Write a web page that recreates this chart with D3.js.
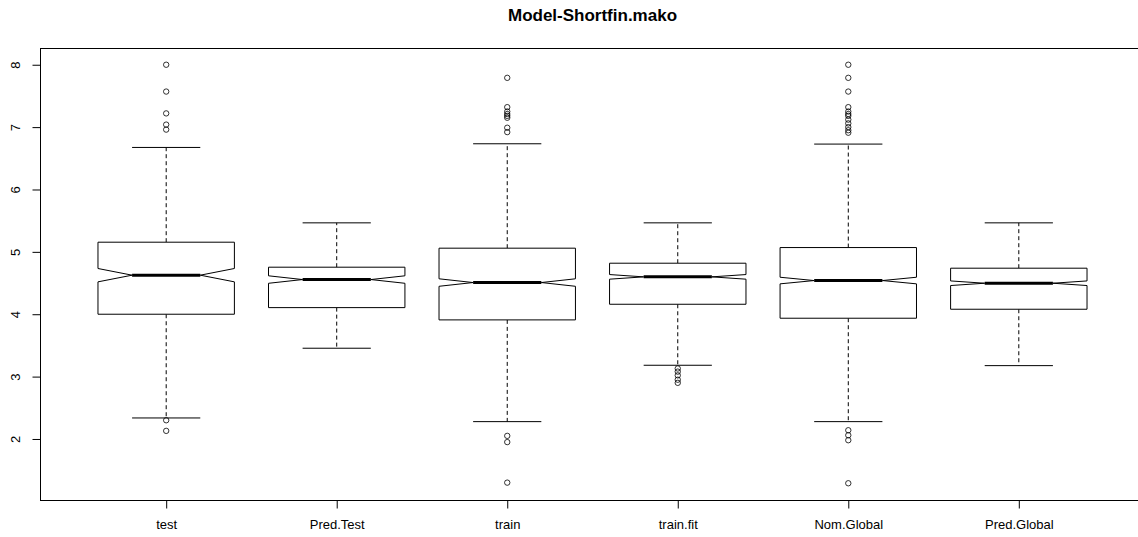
<!DOCTYPE html>
<html>
<head>
<meta charset="utf-8">
<script src="https://cdn.jsdelivr.net/npm/d3@7"></script>
<style>
  body { margin: 0; background: #fff; }
  text { font-family: "Liberation Sans", Arial, sans-serif; fill: #000; }
</style>
</head>
<body>
<svg id="chart" width="1138" height="537"></svg>
<script>
// data
var categories = ["test", "Pred.Test", "train", "train.fit", "Nom.Global", "Pred.Global"];
var q1 = [4.00, 4.106, 3.909, 4.16, 3.936, 4.08];
var medians = [4.626, 4.556, 4.508, 4.599, 4.54, 4.497];
var q3 = [5.155, 4.754, 5.059, 4.818, 5.069, 4.738];
var whiskLo = [2.337, 3.455, 2.278, 3.182, 2.278, 3.176];
var whiskHi = [6.674, 5.465, 6.733, 5.465, 6.728, 5.465];
var notchHalf = [0.107, 0.06, 0.06, 0.037, 0.053, 0.037];
var outliers = [
  [8.0, 7.57, 7.22, 7.04, 6.96, 2.30, 2.13],
  [],
  [7.79, 7.32, 7.25, 7.21, 7.18, 7.15, 6.99, 6.92, 2.05, 1.95, 1.30],
  [3.13, 3.08, 3.02, 2.95, 2.90],
  [8.0, 7.79, 7.57, 7.32, 7.25, 7.21, 7.18, 7.12, 7.06, 7.0, 6.95, 6.91, 2.14, 2.06, 1.98, 1.29],
  []
];
var yTicks = [2, 3, 4, 5, 6, 7, 8];

var svg = d3.select("#chart");

// plot region (right edge runs past the picture, as in the reference)
var pLeft = 40, pRight = 1145, pTop = 48, pBottom = 500;

// R style: 4% padding around the data range
var allVals = d3.merge([whiskLo, whiskHi, d3.merge(outliers)]);
var ext = d3.extent(allVals);
var pad = (ext[1] - ext[0]) * 0.04;

var x = d3.scaleLinear().domain([0.5 - 0.24, categories.length + 0.5 + 0.24]).range([pLeft, pRight]);
var y = d3.scaleLinear().domain([ext[0] - pad, ext[1] + pad]).range([pBottom, pTop]);

var unit = x(1) - x(0);
var hw = unit * 0.4;   // half box width
var sw = hw * 0.5;     // staple / median half width

var boxes = categories.map(function (c, i) {
  return { name: c, pos: i + 1, q1: q1[i], med: medians[i], q3: q3[i],
           lo: whiskLo[i], hi: whiskHi[i], nh: notchHalf[i], out: outliers[i] };
});

var g = svg.append("g");

// whiskers (dashed) and staples
g.selectAll(".whisk")
  .data(boxes)
  .enter().append("g")
  .each(function (d) {
    var cx = x(d.pos);
    var s = d3.select(this);
    s.append("line").attr("x1", cx).attr("x2", cx).attr("y1", y(d.q3)).attr("y2", y(d.hi))
      .attr("stroke", "#000").attr("stroke-dasharray", "4,3");
    s.append("line").attr("x1", cx).attr("x2", cx).attr("y1", y(d.q1)).attr("y2", y(d.lo))
      .attr("stroke", "#000").attr("stroke-dasharray", "4,3");
    s.append("line").attr("x1", cx - sw).attr("x2", cx + sw).attr("y1", y(d.hi)).attr("y2", y(d.hi))
      .attr("stroke", "#000");
    s.append("line").attr("x1", cx - sw).attr("x2", cx + sw).attr("y1", y(d.lo)).attr("y2", y(d.lo))
      .attr("stroke", "#000");
  });

// notched boxes
var line = d3.line();
g.selectAll(".box")
  .data(boxes)
  .enter().append("path")
  .attr("d", function (d) {
    var cx = x(d.pos);
    var pts = [
      [cx - hw, y(d.q1)], [cx - hw, y(d.med - d.nh)], [cx - sw, y(d.med)], [cx - hw, y(d.med + d.nh)],
      [cx - hw, y(d.q3)], [cx + hw, y(d.q3)], [cx + hw, y(d.med + d.nh)], [cx + sw, y(d.med)],
      [cx + hw, y(d.med - d.nh)], [cx + hw, y(d.q1)]
    ];
    return line(pts) + "Z";
  })
  .attr("fill", "#fff")
  .attr("stroke", "#000")
  .attr("stroke-width", 1);

// medians
g.selectAll(".med")
  .data(boxes)
  .enter().append("line")
  .attr("x1", function (d) { return x(d.pos) - sw })
  .attr("x2", function (d) { return x(d.pos) + sw })
  .attr("y1", function (d) { return y(d.med) })
  .attr("y2", function (d) { return y(d.med) })
  .attr("stroke", "#000")
  .attr("stroke-width", 3);

// outliers
var outPts = [];
boxes.forEach(function (d) { d.out.forEach(function (v) { outPts.push({ pos: d.pos, v: v }) }) });
g.selectAll(".out")
  .data(outPts)
  .enter().append("circle")
  .attr("cx", function (d) { return x(d.pos) })
  .attr("cy", function (d) { return y(d.v) })
  .attr("r", 2.7)
  .attr("fill", "none")
  .attr("stroke", "#000")
  .attr("stroke-width", 0.8);

// frame
svg.append("rect")
  .attr("x", pLeft + 0.5).attr("y", pTop + 0.5)
  .attr("width", pRight - pLeft).attr("height", pBottom - pTop)
  .attr("fill", "none").attr("stroke", "#000");

// y axis
var yAxis = svg.append("g")
  .attr("transform", "translate(" + (pLeft + 0.5) + ",0)")
  .call(d3.axisLeft(y).tickValues(yTicks).tickSize(8).tickFormat(d3.format("d")));
yAxis.select(".domain").remove();
yAxis.selectAll("text")
  .attr("x", 0).attr("dy", null)
  .attr("transform", "translate(-21,0) rotate(-90)")
  .attr("text-anchor", "middle")
  .style("font-size", "13px")
  .style("font-family", "'Liberation Sans', Arial, sans-serif");

// x axis
var xAxis = svg.append("g")
  .attr("transform", "translate(0," + (pBottom + 0.5) + ")")
  .call(d3.axisBottom(x).tickValues(d3.range(1, categories.length + 1))
    .tickSize(8).tickFormat(function (d) { return categories[d - 1] }));
xAxis.select(".domain").remove();
xAxis.selectAll("text")
  .attr("y", 24).attr("dy", "0.32em")
  .style("font-size", "13px")
  .style("font-family", "'Liberation Sans', Arial, sans-serif");

// title
svg.append("text")
  .attr("x", (pLeft + pRight) / 2)
  .attr("y", 21)
  .attr("text-anchor", "middle")
  .style("font-size", "17px")
  .style("font-weight", "bold")
  .text("Model-Shortfin.mako");
</script>
</body>
</html>
